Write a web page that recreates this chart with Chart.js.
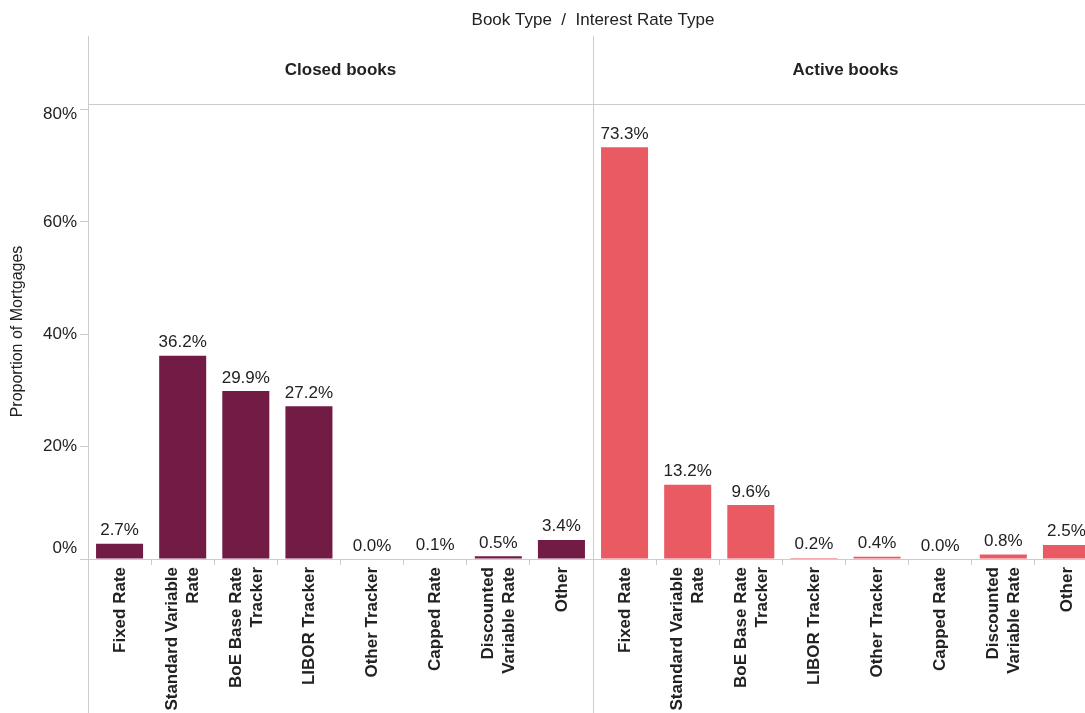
<!DOCTYPE html>
<html>
<head>
<meta charset="utf-8">
<script src="https://cdn.jsdelivr.net/npm/chart.js@4/dist/chart.umd.min.js"></script>
<style>
  html, body { margin: 0; padding: 0; overflow: hidden; background: #fff; }
  #wrap { width: 1100px; height: 713px; }
</style>
</head>
<body>
<div id="wrap"><canvas id="chart" width="1100" height="713"></canvas></div>
<script>
// Panel (book type) names and the interest rate types shown in each panel
const bookTypes = ['Closed books', 'Active books'];
const rateTypes = [
  ['Fixed Rate'],
  ['Standard Variable', 'Rate'],
  ['BoE Base Rate', 'Tracker'],
  ['LIBOR Tracker'],
  ['Other Tracker'],
  ['Capped Rate'],
  ['Discounted', 'Variable Rate'],
  ['Other']
];

// Proportion of mortgages (%) per interest rate type
const closedBooks = [2.7, 36.2, 29.9, 27.2, 0.0, 0.1, 0.5, 3.4];
const activeBooks = [73.3, 13.2, 9.6, 0.2, 0.4, 0.0, 0.8, 2.5];

// Y axis tick values (%)
const yTicks = [0, 20, 40, 60, 80];

const headerTitle = 'Book Type  /  Interest Rate Type';
const yTitle = 'Proportion of Mortgages';

const bookColors = ['#721B45', '#E95A63'];
const lineColor = '#cccccc';
const textColor = '#222222';
const fontFamily = '"Liberation Sans", Arial, sans-serif';

// One category axis holding both panels side by side
const labels = [];
const values = [];
const colors = [];
[closedBooks, activeBooks].forEach((series, b) => {
  series.forEach((v, i) => {
    labels.push(rateTypes[i]);
    values.push(v);
    colors.push(bookColors[b]);
  });
});

const facetPlugin = {
  id: 'facets',
  afterDraw(chart) {
    const ctx = chart.ctx;
    const area = chart.chartArea;
    const xs = chart.scales.x;
    const ys = chart.scales.y;
    const n = rateTypes.length;
    const split = (xs.getPixelForValue(n - 1) + xs.getPixelForValue(n)) / 2;
    const H = chart.height;

    ctx.save();
    // frame lines
    ctx.strokeStyle = lineColor;
    ctx.lineWidth = 1;
    ctx.beginPath();
    ctx.moveTo(Math.round(area.left) + 0.5, 36);
    ctx.lineTo(Math.round(area.left) + 0.5, H);
    ctx.moveTo(Math.round(split) + 0.5, 36);
    ctx.lineTo(Math.round(split) + 0.5, H);
    ctx.moveTo(area.left, Math.round(area.top) + 0.5);
    ctx.lineTo(area.right, Math.round(area.top) + 0.5);
    ctx.stroke();

    ctx.fillStyle = textColor;

    // header
    ctx.font = '17px ' + fontFamily;
    ctx.textAlign = 'center';
    ctx.textBaseline = 'middle';
    ctx.fillText(headerTitle, (area.left + area.right) / 2, 20);

    // panel headers
    ctx.font = 'bold 17px ' + fontFamily;
    ctx.fillText(bookTypes[0], (area.left + split) / 2, 70);
    ctx.fillText(bookTypes[1], (split + area.right) / 2, 70);

    // value labels above bars
    ctx.font = '17px ' + fontFamily;
    ctx.textBaseline = 'alphabetic';
    values.forEach((v, i) => {
      const x = xs.getPixelForValue(i);
      const y = ys.getPixelForValue(v);
      ctx.fillText(v.toFixed(1) + '%', x, y - 8.5);
    });

    // y tick labels (kept inside the panel's vertical extent)
    ctx.textAlign = 'right';
    ctx.textBaseline = 'middle';
    yTicks.forEach(t => {
      let y = ys.getPixelForValue(t);
      y = Math.min(Math.max(y, area.top + 10.5), area.bottom - 11);
      ctx.fillText(t + '%', 77, y);
    });

    // y axis title
    ctx.save();
    ctx.font = '16px ' + fontFamily;
    ctx.textAlign = 'center';
    ctx.translate(18, (area.top + area.bottom) / 2);
    ctx.rotate(-Math.PI / 2);
    ctx.fillText(yTitle, 0, 0);
    ctx.restore();

    // rotated category labels
    ctx.font = 'bold 17px ' + fontFamily;
    const lh = 21;
    labels.forEach((lines, i) => {
      const x = xs.getPixelForValue(i);
      lines.forEach((line, j) => {
        const cx = x + (j - (lines.length - 1) / 2) * lh + 0.5;
        ctx.save();
        ctx.translate(cx, area.bottom + 8);
        ctx.rotate(-Math.PI / 2);
        ctx.textAlign = 'right';
        ctx.textBaseline = 'middle';
        ctx.fillText(line, 0, 0);
        ctx.restore();
      });
    });
    ctx.restore();
  }
};

new Chart(document.getElementById('chart'), {
  type: 'bar',
  data: {
    labels: labels,
    datasets: [{
      data: values,
      backgroundColor: colors,
      borderWidth: 0,
      categoryPercentage: 1,
      barPercentage: 0.745
    }]
  },
  options: {
    responsive: false,
    animation: false,
    devicePixelRatio: 1,
    layout: { padding: { top: 104, right: 2, left: 0, bottom: 0 } },
    plugins: { legend: { display: false }, tooltip: { enabled: false } },
    scales: {
      x: {
        type: 'category',
        offset: true,
        grid: {
          offset: true,
          display: true,
          drawOnChartArea: false,
          drawTicks: true,
          tickLength: 6,
          color: lineColor
        },
        border: { display: false },
        ticks: { display: false },
        afterFit: s => { s.height = 154; }
      },
      y: {
        min: 0,
        max: 81,
        grid: {
          drawOnChartArea: true,
          drawTicks: true,
          tickLength: 8,
          color: c => (c.tick && c.tick.value === 0) ? lineColor : 'rgba(0,0,0,0)',
          tickColor: lineColor
        },
        border: { display: false },
        ticks: { display: false, stepSize: 20, includeBounds: false },
        afterFit: s => { s.width = 88; }
      }
    }
  },
  plugins: [facetPlugin]
});
</script>
</body>
</html>
